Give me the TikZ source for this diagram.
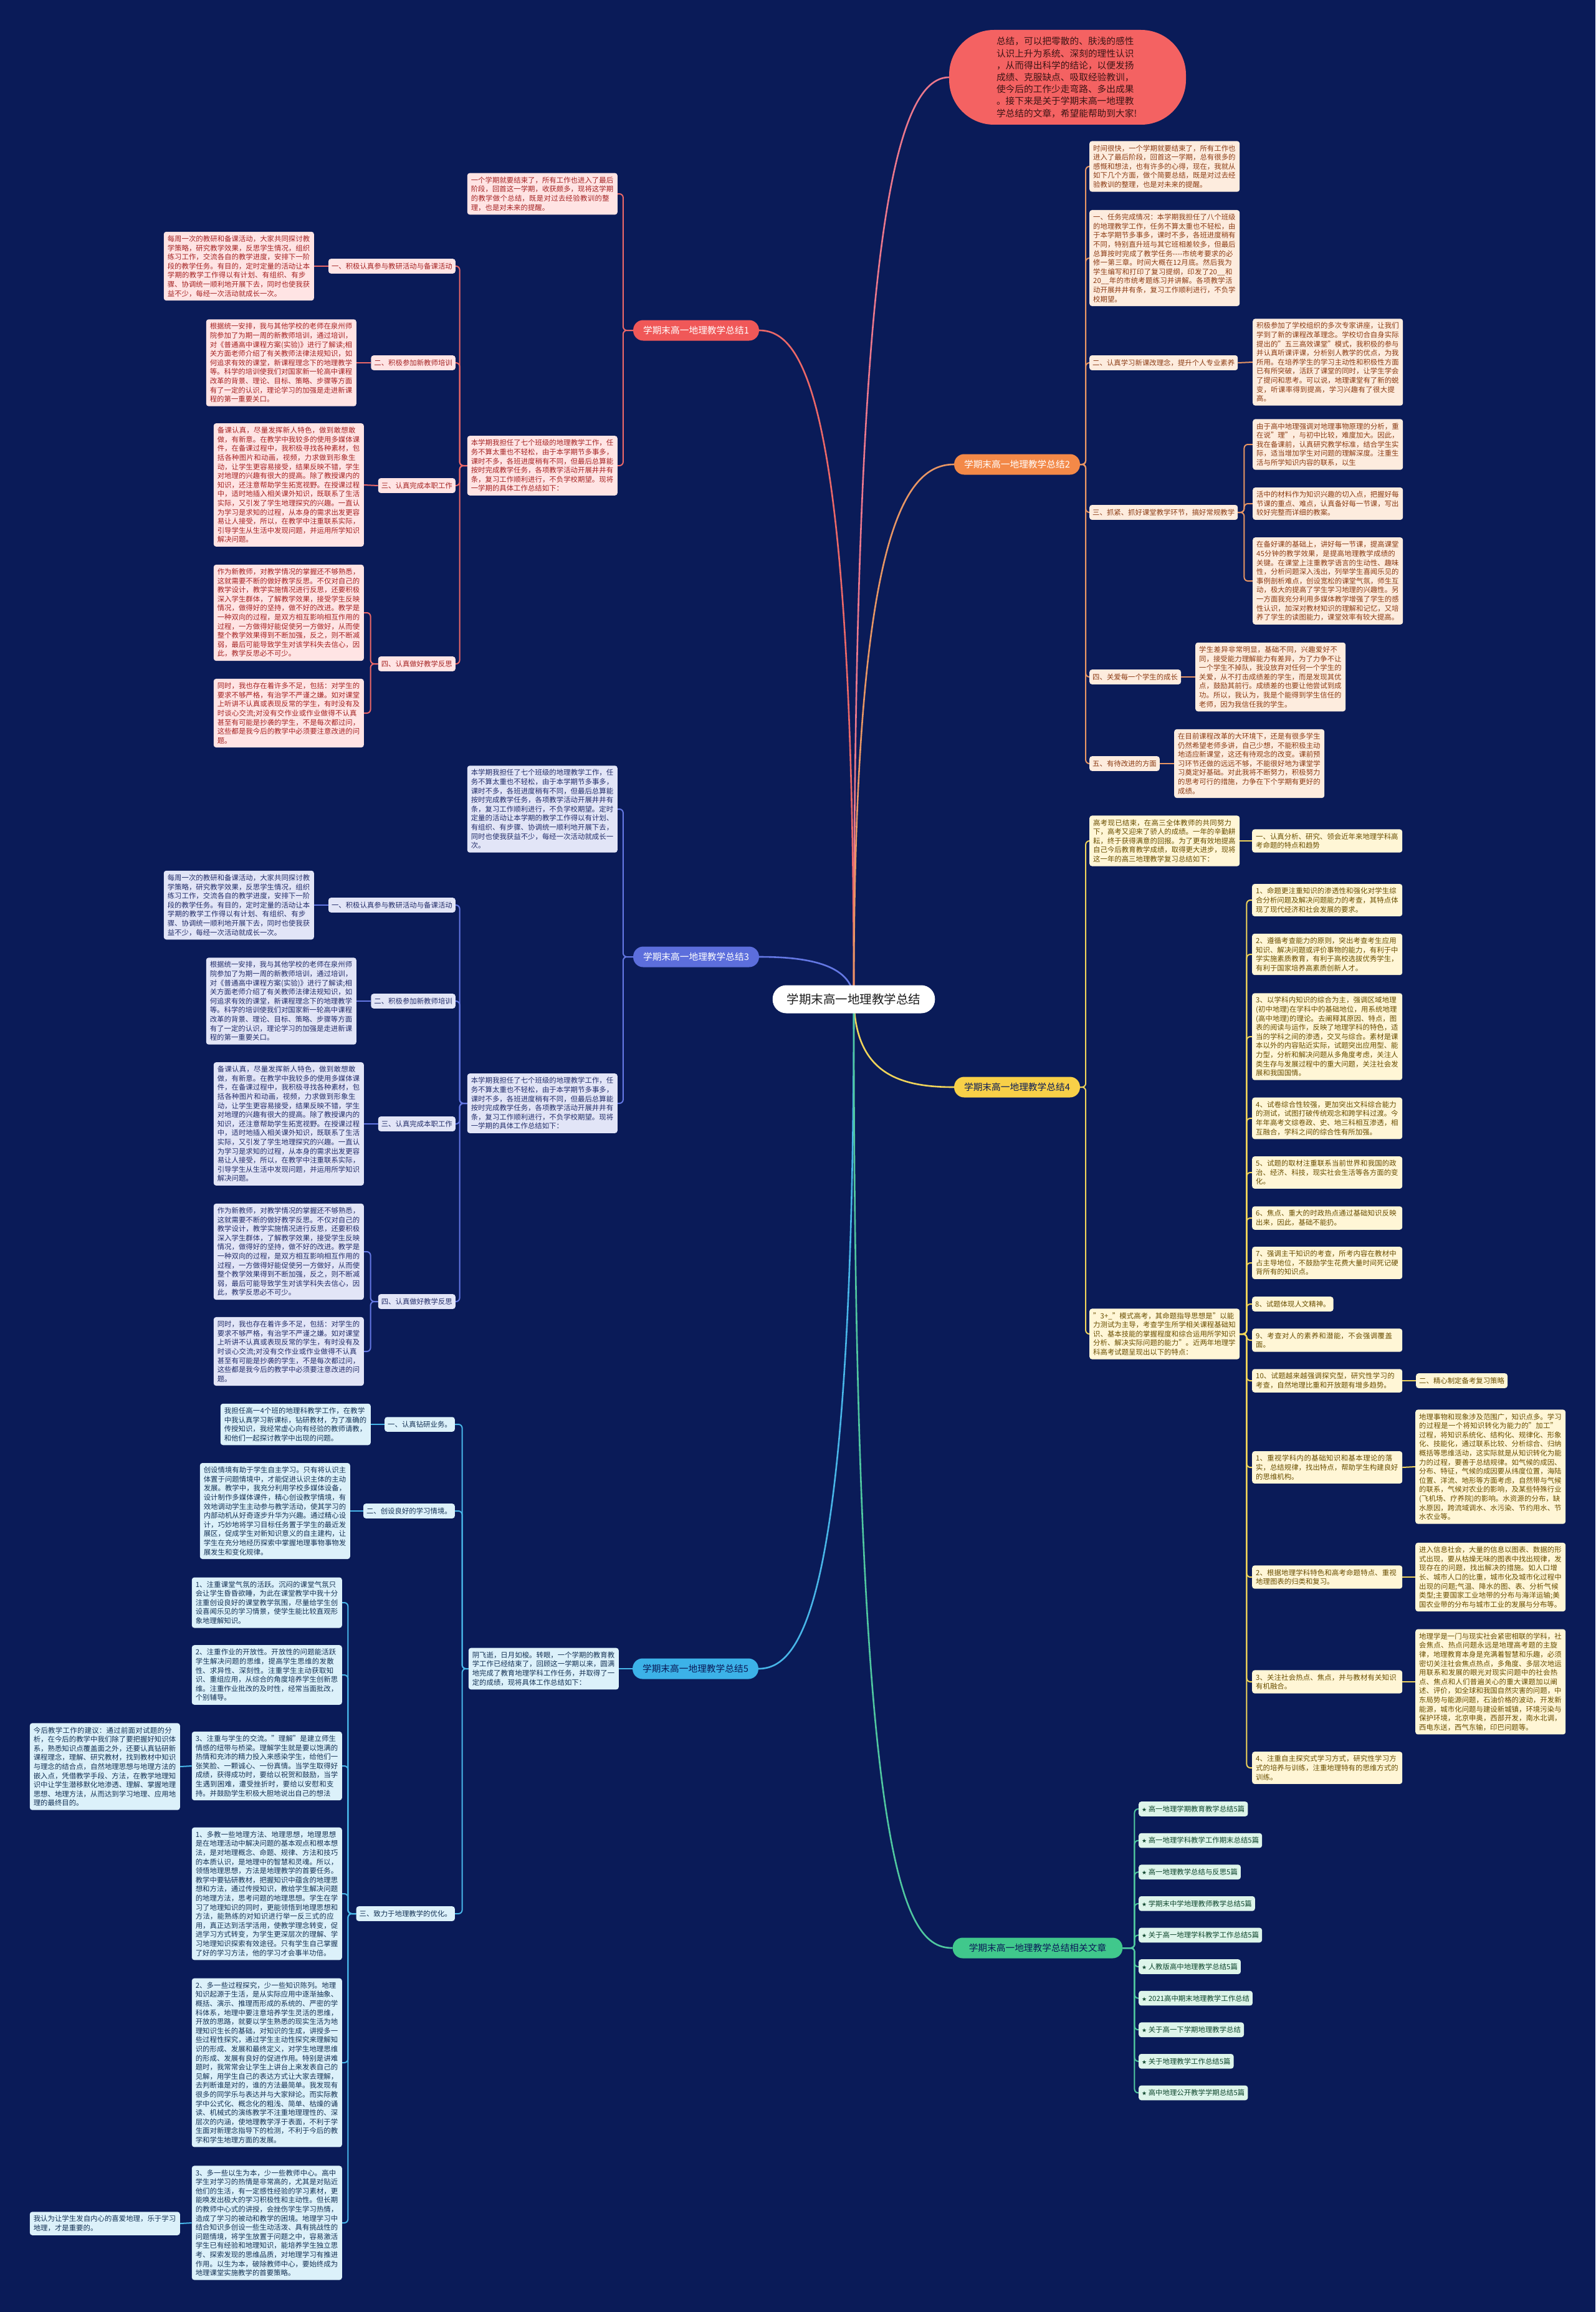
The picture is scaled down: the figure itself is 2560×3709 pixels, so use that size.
\documentclass[tikz,border=0pt]{standalone}
\usepackage{fontspec}
\setmainfont{Noto Sans CJK SC}
\newfontfamily\starfont{DejaVu Sans}
\XeTeXlinebreaklocale "zh"
\XeTeXlinebreakskip=0pt plus 1pt
\XeTeXinterchartokenstate=1
\XeTeXinterchartoks 1 3 = {\penalty0\relax}
\XeTeXinterchartoks 0 3 = {\penalty0\relax}

\definecolor{night}{RGB}{10, 27, 88}
\definecolor{hubtext}{RGB}{30, 30, 30}
\definecolor{coral}{RGB}{244, 98, 98}
\definecolor{coraltext}{RGB}{60, 20, 20}
\definecolor{introline}{RGB}{236, 120, 140}
\definecolor{rose}{RGB}{240, 88, 88}
\definecolor{roseline}{RGB}{236, 104, 104}
\definecolor{rosefill}{RGB}{255, 228, 228}
\definecolor{rosetext}{RGB}{165, 35, 35}
\definecolor{amber}{RGB}{243, 137, 72}
\definecolor{amberline}{RGB}{232, 150, 100}
\definecolor{amberfill}{RGB}{253, 236, 222}
\definecolor{ambertext}{RGB}{140, 60, 20}
\definecolor{iris}{RGB}{92, 110, 220}
\definecolor{irisline}{RGB}{100, 120, 228}
\definecolor{irisfill}{RGB}{226, 229, 247}
\definecolor{iristext}{RGB}{35, 45, 105}
\definecolor{gold}{RGB}{248, 208, 72}
\definecolor{goldline}{RGB}{240, 212, 90}
\definecolor{goldfill}{RGB}{255, 246, 214}
\definecolor{goldtext}{RGB}{105, 78, 0}
\definecolor{sky}{RGB}{60, 178, 232}
\definecolor{skyline}{RGB}{72, 182, 232}
\definecolor{skyfill}{RGB}{220, 241, 250}
\definecolor{skytext}{RGB}{20, 50, 85}
\definecolor{jade}{RGB}{64, 200, 140}
\definecolor{jadeline}{RGB}{80, 200, 160}
\definecolor{jadefill}{RGB}{221, 245, 234}
\definecolor{jadetext}{RGB}{15, 70, 45}

\pgfdeclarelayer{bgfill}
\pgfdeclarelayer{edges}
\pgfsetlayers{bgfill,edges,main}

\tikzset{
  hub/.style   = {fill = white, text = hubtext, rounded corners = 22pt,
                  inner xsep = 23pt, minimum height = 45pt,
                  font = \fontsize{19.5}{23}\selectfont},
  pill/.style  = {rounded corners = 16pt, inner xsep = 16pt, inner ysep = 3pt,
                  minimum height = 33pt, font = \fontsize{14.7}{18}\selectfont},
  memo/.style  = {rounded corners = 4pt, inner xsep = 6pt, inner ysep = 6pt,
                  text width = 229pt, align = left,
                  font = \fontsize{11.4}{14.6}\selectfont},
  chip/.style  = {rounded corners = 4pt, inner xsep = 5pt, inner ysep = 6.5pt,
                  font = \fontsize{11.4}{14.6}\selectfont},
  wire/.style  = {line width = 2pt, rounded corners = 6pt},
  trunk/.style = {line width = 2.6pt},
  rosememo/.style  = {memo, fill = rosefill, text = rosetext},
  rosechip/.style  = {chip, fill = rosefill, text = rosetext},
  ambermemo/.style = {memo, fill = amberfill, text = ambertext},
  amberchip/.style = {chip, fill = amberfill, text = ambertext},
  irismemo/.style  = {memo, fill = irisfill, text = iristext},
  irischip/.style  = {chip, fill = irisfill, text = iristext},
  goldmemo/.style  = {memo, fill = goldfill, text = goldtext},
  goldchip/.style  = {chip, fill = goldfill, text = goldtext},
  skymemo/.style   = {memo, fill = skyfill, text = skytext},
  skychip/.style   = {chip, fill = skyfill, text = skytext},
  jadechip/.style  = {chip, fill = jadefill, text = jadetext}
}

% texts shared by branch 1 and branch 3
\newcommand{\txtplan}{本学期我担任了七个班级的地理教学工作，任务不算太重也不轻松，由于本学期节多事多，课时不多，各班进度稍有不同，但最后总算能按时完成教学任务，各项教学活动开展井井有条，复习工作顺利进行，不负学校期望。现将一学期的具体工作总结如下：}
\newcommand{\txtresearch}{每周一次的教研和备课活动，大家共同探讨教学策略，研究教学效果，反思学生情况，组织练习工作，交流各自的教学进度，安排下一阶段的教学任务。有目的，定时定量的活动让本学期的教学工作得以有计划、有组织、有步骤、协调统一顺利地开展下去，同时也使我获益不少，每经一次活动就成长一次。}
\newcommand{\txttraining}{根据统一安排，我与其他学校的老师在泉州师院参加了为期一周的新教师培训，通过培训，对《普通高中课程方案(实验)》进行了解读;相关方面老师介绍了有关教师法律法规知识，如何追求有效的课堂，新课程理念下的地理教学等。科学的培训使我们对国家新一轮高中课程改革的背景、理论、目标、策略、步骤等方面有了一定的认识，理论学习的加强是走进新课程的第一重要关口。}
\newcommand{\txtduty}{备课认真，尽量发挥新人特色，做到敢想敢做，有新意。在教学中我较多的使用多媒体课件，在备课过程中，我积极寻找各种素材，包括各种图片和动画，视频，力求做到形象生动，让学生更容易接受，结果反映不错，学生对地理的兴趣有很大的提高。除了教授课内的知识，还注意帮助学生拓宽视野。在授课过程中，适时地插入相关课外知识，既联系了生活实际，又引发了学生地理探究的兴趣。一直认为学习是求知的过程，从本身的需求出发更容易让人接受，所以，在教学中注重联系实际，引导学生从生活中发现问题，并运用所学知识解决问题。}
\newcommand{\txtreflect}{作为新教师，对教学情况的掌握还不够熟悉，这就需要不断的做好教学反思。不仅对自己的教学设计，教学实施情况进行反思，还要积极深入学生群体，了解教学效果，接受学生反映情况，做得好的坚持，做不好的改进。教学是一种双向的过程，是双方相互影响相互作用的过程，一方做得好能促使另一方做好，从而使整个教学效果得到不断加强，反之，则不断减弱，最后可能导致学生对该学科失去信心，因此，教学反思必不可少。}
\newcommand{\txtshortfall}{同时，我也存在着许多不足，包括：对学生的要求不够严格，有治学不严谨之嫌。如对课堂上听讲不认真或表现反常的学生，有时没有及时谈心交流;对没有交作业或作业做得不认真甚至有可能是抄袭的学生，不是每次都过问，这些都是我今后的教学中必须要注意改进的问题。}

\begin{document}
\begin{tikzpicture}[x=1pt, y=-1pt]
\begin{pgfonlayer}{bgfill}
  \fill[night] (0,0) rectangle (2560,3709);
\end{pgfonlayer}
\useasboundingbox (0,0) rectangle (2560,3709);

% centre and introduction
\node[hub] (hub) at (1370,1603) {学期末高一地理教学总结};
\node[
  fill           = coral,
  text           = coraltext,
  rounded corners = 72pt,
  minimum width  = 380pt,
  minimum height = 152pt,
  text width     = 228pt,
  align          = left,
  font           = \fontsize{14.7}{19.2}\selectfont
] (intro) at (1713,124) {总结，可以把零散的、肤浅的感性\\认识上升为系统、深刻的理性认识\\，从而得出科学的结论，以便发扬\\成绩、克服缺点、吸取经验教训，\\使今后的工作少走弯路、多出成果\\。接下来是关于学期末高一地理教\\学总结的文章，希望能帮助到大家!};

% branch 1
\node[pill, fill=rose, text=white] (b1) at (1117,530) {学期末高一地理教学总结1};
\node[rosememo, anchor=east] (b1intro) at (991,311) {一个学期就要结束了，所有工作也进入了最后阶段，回首这一学期，收获颇多，现将这学期的教学做个总结，既是对过去经验教训的整理，也是对未来的提醒。};
\node[rosememo, anchor=east] (b1plan) at (991,747) {\txtplan};
\node[rosechip, anchor=east] (b1s1) at (731,427) {一、积极认真参与教研活动与备课活动};
\node[rosememo, anchor=east] (b1p1) at (504,427) {\txtresearch};
\node[rosechip, anchor=east] (b1s2) at (731,582) {二、积极参加新教师培训};
\node[rosememo, anchor=east] (b1p2) at (572,582) {\txttraining};
\node[rosechip, anchor=east] (b1s3) at (731,779) {三、认真完成本职工作};
\node[rosememo, anchor=east] (b1p3) at (584,778) {\txtduty};
\node[rosechip, anchor=east] (b1s4) at (731,1065) {四、认真做好教学反思};
\node[rosememo, anchor=east] (b1p4) at (584,983) {\txtreflect};
\node[rosememo, anchor=east] (b1p5) at (584,1144) {\txtshortfall};

% branch 2
\node[pill, fill=amber, text=white] (b2) at (1632,745) {学期末高一地理教学总结2};
\node[ambermemo, anchor=west] (b2intro) at (1748,267) {时间很快，一个学期就要结束了，所有工作也进入了最后阶段，回首这一学期，总有很多的感慨和想法，也有许多的心得，现在，我就从如下几个方面，做个简要总结，既是对过去经验教训的整理，也是对未来的提醒。};
\node[ambermemo, anchor=west] (b2task) at (1748,414) {一、任务完成情况：本学期我担任了八个班级的地理教学工作，任务不算太重也不轻松，由于本学期节多事多，课时不多，各班进度稍有不同，特别直升班与其它班相差较多，但最后总算按时完成了教学任务-{}-{}-{}-市统考要求的必修一第三章。时间大概在12月底。然后我为学生编写和打印了复习提纲，印发了20\_\_和20\_\_年的市统考题练习并讲解。各项教学活动开展井井有条，复习工作顺利进行，不负学校期望。};
\node[amberchip, anchor=west] (b2s1) at (1748,582) {二、认真学习新课改理念，提升个人专业素养};
\node[ambermemo, anchor=west] (b2p1) at (2010,581) {积极参加了学校组织的多次专家讲座，让我们学到了新的课程改革理念。学校切合自身实际提出的"五三高效课堂"模式，我积极的参与并认真听课评课，分析别人教学的优点，为我所用。在培养学生的学习主动性和积极性方面已有所突破，活跃了课堂的同时，让学生学会了提问和思考。可以说，地理课堂有了新的蜕变，听课率得到提高，学习兴趣有了很大提高。};
\node[amberchip, anchor=west] (b2s2) at (1748,822) {三、抓紧、抓好课堂教学环节，搞好常规教学};
\node[ambermemo, anchor=west] (b2p2) at (2010,713) {由于高中地理强调对地理事物原理的分析，重在说"理"，与初中比较，难度加大。因此，我在备课前，认真研究教学标准，结合学生实际，适当增加学生对问题的理解深度。注重生活与所学知识内容的联系，以生};
\node[ambermemo, anchor=west] (b2p3) at (2010,808) {活中的材料作为知识兴趣的切入点，把握好每节课的重点、难点，认真备好每一节课，写出较好完整而详细的教案。};
\node[ambermemo, anchor=west] (b2p4) at (2010,932) {在备好课的基础上，讲好每一节课，提高课堂45分钟的教学效果，是提高地理教学成绩的关键。在课堂上注重教学语言的生动性、趣味性，分析问题深入浅出，列举学生喜闻乐见的事例剖析难点，创设宽松的课堂气氛，师生互动，极大的提高了学生学习地理的兴趣性。另一方面我充分利用多媒体教学增强了学生的感性认识，加深对教材知识的理解和记忆，又培养了学生的读图能力，课堂效率有较大提高。};
\node[amberchip, anchor=west] (b2s3) at (1748,1086) {四、关爱每一个学生的成长};
\node[ambermemo, anchor=west] (b2p5) at (1918,1086) {学生差异非常明显，基础不同，兴趣爱好不同，接受能力理解能力有差异，为了力争不让一个学生不掉队，我没放弃对任何一个学生的关爱，从不打击成绩差的学生，而是发现其优点，鼓励其前行。成绩差的也要让他尝试到成功。所以，我认为，我是个能得到学生信任的老师，因为我信任我的学生。};
\node[amberchip, anchor=west] (b2s4) at (1748,1225) {五、有待改进的方面};
\node[ambermemo, anchor=west] (b2p6) at (1884,1225) {在目前课程改革的大环境下，还是有很多学生仍然希望老师多讲，自己少想，不能积极主动地适应新课堂，这还有待观念的改变。课前预习环节还做的远远不够，不能很好地为课堂学习奠定好基础。对此我将不断努力，积极努力的思考可行的措施，力争在下个学期有更好的成绩。};

% branch 3
\node[pill, fill=iris, text=white] (b3) at (1117,1535) {学期末高一地理教学总结3};
\node[irismemo, anchor=east] (b3intro) at (991,1298) {本学期我担任了七个班级的地理教学工作，任务不算太重也不轻松，由于本学期节多事多，课时不多，各班进度稍有不同，但最后总算能按时完成教学任务，各项教学活动开展井井有条，复习工作顺利进行，不负学校期望。定时定量的活动让本学期的教学工作得以有计划、有组织、有步骤、协调统一顺利地开展下去，同时也使我获益不少，每经一次活动就成长一次。};
\node[irismemo, anchor=east] (b3plan) at (991,1770) {\txtplan};
\node[irischip, anchor=east] (b3s1) at (731,1452) {一、积极认真参与教研活动与备课活动};
\node[irismemo, anchor=east] (b3p1) at (504,1452) {\txtresearch};
\node[irischip, anchor=east] (b3s2) at (731,1606) {二、积极参加新教师培训};
\node[irismemo, anchor=east] (b3p2) at (572,1606) {\txttraining};
\node[irischip, anchor=east] (b3s3) at (731,1803) {三、认真完成本职工作};
\node[irismemo, anchor=east] (b3p3) at (584,1803) {\txtduty};
\node[irischip, anchor=east] (b3s4) at (731,2088) {四、认真做好教学反思};
\node[irismemo, anchor=east] (b3p4) at (584,2008) {\txtreflect};
\node[irismemo, anchor=east] (b3p5) at (584,2168) {\txtshortfall};

% branch 4
\node[pill, fill=gold, text=night] (b4) at (1632,1744) {学期末高一地理教学总结4};
\node[goldmemo, anchor=west] (b4intro) at (1748,1349) {高考现已结束，在高三全体教师的共同努力下，高考又迎来了骄人的成绩。一年的辛勤耕耘，终于获得满意的回报。为了更有效地提高自己今后教育教学成绩，取得更大进步，现将这一年的高三地理教学复习总结如下：};
\node[goldmemo, anchor=west] (b4head) at (2009,1349) {一、认真分析、研究、领会近年来地理学科高考命题的特点和趋势};
\node[goldmemo, anchor=west] (b4exam) at (1748,2140) {"3+\_"模式高考，其命题指导思想是"以能力测试为主导，考查学生所学相关课程基础知识、基本技能的掌握程度和综合运用所学知识分析、解决实际问题的能力"。近两年地理学科高考试题呈现出以下的特点：};
\node[goldmemo, anchor=west] (b4q1) at (2009,1444) {1、命题更注重知识的渗透性和强化对学生综合分析问题及解决问题能力的考查，其特点体现了现代经济和社会发展的要求。};
\node[goldmemo, anchor=west] (b4q2) at (2009,1531) {2、遵循考查能力的原则，突出考查考生应用知识、解决问题或评价事物的能力，有利于中学实施素质教育，有利于高校选拔优秀学生，有利于国家培养高素质创新人才。};
\node[goldmemo, anchor=west] (b4q3) at (2009,1663) {3、以学科内知识的综合为主，强调区域地理(初中地理)在学科中的基础地位，用系统地理(高中地理)的理论。去阐释其原因、特点，图表的阅读与运作，反映了地理学科的特色，适当的学科之间的渗透，交叉与综合。素材是课本以外的内容贴近实际，试题突出应用型、能力型，分析和解决问题从多角度考虑，关注人类生存与发展过程中的重大问题，关注社会发展和我国国情。};
\node[goldmemo, anchor=west] (b4q4) at (2009,1794) {4、试卷综合性较强，更加突出文科综合能力的测试，试图打破传统观念和跨学科过渡。今年年高考文综卷政、史、地三科相互渗透，相互融合，学科之间的综合性有所加强。};
\node[goldmemo, anchor=west] (b4q5) at (2009,1881) {5、试题的取材注重联系当前世界和我国的政治、经济、科技，现实社会生活等各方面的变化。};
\node[goldmemo, anchor=west] (b4q6) at (2009,1954) {6、焦点、重大的时政热点通过基础知识反映出来，因此，基础不能扔。};
\node[goldmemo, anchor=west] (b4q7) at (2009,2026) {7、强调主干知识的考查，所考内容在教材中占主导地位，不鼓励学生花费大量时间死记硬背所有的知识点。};
\node[goldchip, anchor=west] (b4q8) at (2009,2092) {8、试题体现人文精神。};
\node[goldmemo, anchor=west] (b4q9) at (2009,2150) {9、考查对人的素养和潜能，不会强调覆盖面。};
\node[goldmemo, anchor=west] (b4q10) at (2009,2215) {10、试题越来越强调探究型，研究性学习的考查，自然地理比重和开放题有增多趋势。};
\node[goldchip, anchor=west] (b4plan) at (2272,2215) {二、精心制定备考复习策略};
\node[goldmemo, anchor=west] (b4s1) at (2009,2354) {1、重视学科内的基础知识和基本理论的落实，总结规律，找出特点，帮助学生构建良好的思维机构。};
\node[goldmemo, anchor=west] (b4r1) at (2271,2353) {地理事物和现象涉及范围广，知识点多。学习的过程是一个将知识转化为能力的"加工"过程，将知识系统化、结构化、规律化、形象化、技能化，通过联系比较、分析综合、归纳概括等思维活动，这实际就是从知识转化为能力的过程，要善于总结规律。如气候的成因、分布、特征，气候的成因要从纬度位置，海陆位置、洋流、地形等方面考虑，自然带与气候的联系，气候对农业的影响，及某些特殊行业(飞机场、疗养院)的影响。水资源的分布，缺水原因，跨流域调水、水污染、节约用水、节水农业等。};
\node[goldmemo, anchor=west] (b4s2) at (2009,2530) {2、根据地理学科特色和高考命题特点、重视地理图表的归类和复习。};
\node[goldmemo, anchor=west] (b4r2) at (2271,2530) {进入信息社会，大量的信息以图表、数据的形式出现，要从枯燥无味的图表中找出规律，发现存在的问题，找出解决的措施。如人口增长、城市人口的比重，城市化及城市化过程中出现的问题;气温、降水的图、表、分析气候类型;主要国家工业地带的分布与海洋运输;美国农业带的分布与城市工业的发展与分布等。};
\node[goldmemo, anchor=west] (b4s3) at (2009,2698) {3、关注社会热点、焦点，并与教材有关知识有机融合。};
\node[goldmemo, anchor=west] (b4r3) at (2271,2698) {地理学是一门与现实社会紧密相联的学科，社会焦点、热点问题永远是地理高考题的主旋律，地理教育本身是充满着智慧和乐趣，必须密切关注社会焦点热点，多角度、多层次地运用联系和发展的眼光对现实问题中的社会热点、焦点和人们普遍关心的重大课题加以阐述、评价，如全球和我国自然灾害的问题，中东局势与能源问题，石油价格的波动，开发新能源，城市化问题与建设新城镇，环境污染与保护环境，北京申奥，西部开发，南水北调，西电东送，西气东输，印巴问题等。};
\node[goldmemo, anchor=west] (b4s4) at (2009,2836) {4、注重自主探究式学习方式，研究性学习方式的培养与训练，注重地理特有的思维方式的训练。};

% branch 5
\node[pill, fill=sky, text=night] (b5) at (1116,2677) {学期末高一地理教学总结5};
\node[skymemo, anchor=east] (b5intro) at (993,2677) {阴飞逝，日月如梭。转眼，一个学期的教育教学工作已经结束了，回顾这一学期以来，圆满地完成了教育地理学科工作任务，并取得了一定的成绩，现将具体工作总结如下：};
\node[skychip, anchor=east] (b5s1) at (730,2285) {一、认真钻研业务。};
\node[skymemo, anchor=east] (b5p1) at (595,2285) {我担任高一4个班的地理科教学工作，在教学中我认真学习新课标，钻研教材，为了准确的传授知识，我经常虚心向有经验的教师请教，和他们一起探讨教学中出现的问题。};
\node[skychip, anchor=east] (b5s2) at (730,2424) {二、创设良好的学习情境。};
\node[skymemo, anchor=east] (b5p2) at (562,2424) {创设情境有助于学生自主学习。只有将认识主体置于问题情境中，才能促进认识主体的主动发展。教学中，我充分利用学校多媒体设备，设计制作多媒体课件，精心创设教学情境，有效地调动学生主动参与教学活动，使其学习的内部动机从好奇逐步升华为兴趣。通过精心设计，巧妙地将学习目标任务置于学生的最近发展区，促成学生对新知识意义的自主建构，让学生在充分地经历探索中掌握地理事物事物发展发生和变化规律。};
\node[skychip, anchor=east] (b5s3) at (730,3070) {三、致力于地理教学的优化。};
\node[skymemo, anchor=east] (b5a) at (549,2571) {1、注重课堂气氛的活跃。沉闷的课堂气氛只会让学生昏昏欲睡，为此在课堂教学中我十分注重创设良好的课堂教学氛围，尽量给学生创设喜闻乐见的学习情景，使学生能比较直观形象地理解知识。};
\node[skymemo, anchor=east] (b5b) at (549,2687) {2、注重作业的开放性。开放性的问题能活跃学生解决问题的思维，提高学生思维的发散性、求异性、深刻性。注重学生主动获取知识、重组应用，从综合的角度培养学生创新思维。注重作业批改的及时性，经常当面批改，个别辅导。};
\node[skymemo, anchor=east] (b5c) at (549,2833) {3、注重与学生的交流。"理解"是建立师生情感的纽带与桥梁。理解学生就是要以饱满的热情和充沛的精力投入来感染学生，给他们一张笑脸、一颗诚心、一份真情。当学生取得好成绩，获得成功时，要给以祝贺和鼓励，当学生遇到困难，遭受挫折时，要给以安慰和支持。并鼓励学生积极大胆地说出自己的想法};
\node[skymemo, anchor=east] (b5c1) at (289,2834) {今后教学工作的建议：通过前面对试题的分析，在今后的教学中我们除了要把握好知识体系，熟悉知识点覆盖面之外，还要认真钻研新课程理念，理解、研究教材，找到教材中知识与理念的结合点，自然地理思想与地理方法的嵌入点，凭借教学手段、方法，在教学地理知识中让学生潜移默化地渗透、理解、掌握地理思想、地理方法，从而达到学习地理、应用地理的最终目的。};
\node[skymemo, anchor=east] (b5d) at (549,3038) {1、多教一些地理方法、地理思想，地理思想是在地理活动中解决问题的基本观点和根本想法，是对地理概念、命题、规律、方法和技巧的本质认识，是地理中的智慧和灵魂。所以，领悟地理思想，方法是地理教学的首要任务。教学中要钻研教材，把握知识中蕴含的地理思想和方法，通过传授知识，教给学生解决问题的地理方法，思考问题的地理思想。学生在学习了地理知识的同时，更能领悟到地理思想和方法，能熟练的对知识进行举一反三式的应用，真正达到活学活用，使教学理念转变，促进学习方式转变，为学生更深层次的理解、学习地理知识探索有效途径。只有学生自己掌握了好的学习方法，他的学习才会事半功倍。};
\node[skymemo, anchor=east] (b5e) at (549,3309) {2、多一些过程探究，少一些知识陈列。地理知识起源于生活，是从实际应用中逐渐抽象、概括、演示、推理而形成的系统的、严密的学科体系，地理中要注意培养学生灵活的思维，开放的思路，就要以学生熟悉的现实生活为地理知识生长的基础，对知识的生成，讲授多一些过程性探究，通过学生主动性探究来理解知识的形成、发展和最终定义，对学生地理思维的形成、发展有良好的促进作用。特别是讲难题时，我常常会让学生上讲台上来发表自己的见解，用学生自己的表达方式让大家去理解，去判断谁是对的，谁的方法最简单。我发现有很多的同学乐与表达并与大家辩论。而实际教学中公式化、概念化的粗浅、简单、枯燥的诵读、机械式的演练教学不注重地理理性的、深层次的内涵，使地理教学浮于表面，不利于学生面对新理念指导下的检测，不利于今后的教学和学生地理方面的发展。};
\node[skymemo, anchor=east] (b5f) at (549,3566) {3、多一些以生为本，少一些教师中心。高中学生对学习的热情是非常高的，尤其是对贴近他们的生活，有一定感性经验的学习素材，更能唤发出极大的学习积极性和主动性。但长期的教师中心式的讲授，会挫伤学生学习热情，造成了学习的被动和教学的困境。地理学习中结合知识多创设一些生动活泼、具有挑战性的问题情境，将学生放置于问题之中，容易激活学生已有经验和地理知识，能培养学生独立思考、探索发现的思维品质，对地理学习有推进作用。以生为本，破除教师中心，要始终成为地理课堂实施教学的首要策略。};
\node[skymemo, anchor=east] (b5f1) at (289,3567) {我认为让学生发自内心的喜爱地理，乐于学习地理，才是重要的。};

% related articles
\node[pill, fill=jade, text=night, inner xsep=26pt] (rel) at (1665,3125) {学期末高一地理教学总结相关文章};
\foreach \t [count=\i] in {高一地理学期教育教学总结5篇, 高一地理学科教学工作期末总结5篇,
    高一地理教学总结与反思5篇, 学期末中学地理教师教学总结5篇, 关于高一地理学科教学工作总结5篇,
    人教版高中地理教学总结5篇, 2021高中期末地理教学工作总结, 关于高一下学期地理教学总结,
    关于地理教学工作总结5篇, 高中地理公开教学学期总结5篇}
  \node[jadechip, anchor=west] (rel\i) at (1827,{2851.4+50.6*\i}) {{\starfont\fontsize{9}{10}\selectfont ★}\ \t};

% connectors
\begin{pgfonlayer}{edges}
  \draw[trunk, introline] (hub.center) .. controls (1370,500) and (1420,124) .. (intro.west);
  \draw[trunk, roseline] (hub.center) .. controls (1370,640) and (1290,530) .. (b1.east);
  \draw[trunk, amberline] (hub.center) .. controls (1370,860) and (1450,745) .. (b2.west);
  \draw[trunk, irisline] (hub.center) .. controls (1368,1545) and (1290,1535) .. (b3.east);
  \draw[trunk, goldline] (hub.center) .. controls (1372,1720) and (1440,1744) .. (b4.west);
  \draw[trunk, skyline] (hub.center) .. controls (1370,2560) and (1290,2677) .. (b5.east);
  \draw[trunk, jadeline] (hub.center) .. controls (1370,3010) and (1450,3125) .. (rel.west);

  % branch 1
  \foreach \n in {b1intro, b1plan}
    \draw[wire, roseline] (b1.west) -- ++(-16,0) |- (\n.east);
  \foreach \s in {1,...,4}
    \draw[wire, roseline] (b1plan.west) -- ++(-12,0) |- (b1s\s.east);
  \foreach \s in {1,2,3}
    \draw[wire, roseline] (b1s\s.west) -- (b1p\s.east);
  \foreach \n in {b1p4, b1p5}
    \draw[wire, roseline] (b1s4.west) -- ++(-12,0) |- (\n.east);

  % branch 2
  \foreach \n in {b2intro, b2task, b2s1, b2s2, b2s3, b2s4}
    \draw[wire, amberline] (b2.east) -- ++(9,0) |- (\n.west);
  \draw[wire, amberline] (b2s1.east) -- (b2p1.west);
  \foreach \n in {b2p2, b2p3, b2p4}
    \draw[wire, amberline] (b2s2.east) -- ++(10,0) |- (\n.west);
  \draw[wire, amberline] (b2s3.east) -- (b2p5.west);
  \draw[wire, amberline] (b2s4.east) -- (b2p6.west);

  % branch 3
  \foreach \n in {b3intro, b3plan}
    \draw[wire, irisline] (b3.west) -- ++(-16,0) |- (\n.east);
  \foreach \s in {1,...,4}
    \draw[wire, irisline] (b3plan.west) -- ++(-12,0) |- (b3s\s.east);
  \foreach \s in {1,2,3}
    \draw[wire, irisline] (b3s\s.west) -- (b3p\s.east);
  \foreach \n in {b3p4, b3p5}
    \draw[wire, irisline] (b3s4.west) -- ++(-12,0) |- (\n.east);

  % branch 4
  \foreach \n in {b4intro, b4exam}
    \draw[wire, goldline] (b4.east) -- ++(9,0) |- (\n.west);
  \draw[wire, goldline] (b4intro.east) -- (b4head.west);
  \foreach \n in {b4q1, b4q2, b4q3, b4q4, b4q5, b4q6, b4q7, b4q8, b4q9, b4q10, b4s1, b4s2, b4s3, b4s4}
    \draw[wire, goldline] (b4exam.east) -- ++(11,0) |- (\n.west);
  \draw[wire, goldline] (b4q10.east) -- (b4plan.west);
  \foreach \s in {1,2,3}
    \draw[wire, goldline] (b4s\s.east) -- (b4r\s.west);

  % branch 5
  \draw[wire, skyline] (b5.west) -- (b5intro.east);
  \foreach \s in {1,2,3}
    \draw[wire, skyline] (b5intro.west) -- ++(-10,0) |- (b5s\s.east);
  \draw[wire, skyline] (b5s1.west) -- (b5p1.east);
  \draw[wire, skyline] (b5s2.west) -- (b5p2.east);
  \foreach \n in {b5a, b5b, b5c, b5d, b5e, b5f}
    \draw[wire, skyline] (b5s3.west) -- ++(-13,0) |- (\n.east);
  \draw[wire, skyline] (b5c.west) -- (b5c1.east);
  \draw[wire, skyline] (b5f.west) -- (b5f1.east);

  % related
  \foreach \i in {1,...,10}
    \draw[wire, jadeline] (rel.east) -- ++(19,0) |- (rel\i.west);
\end{pgfonlayer}
\end{tikzpicture}
\end{document}
